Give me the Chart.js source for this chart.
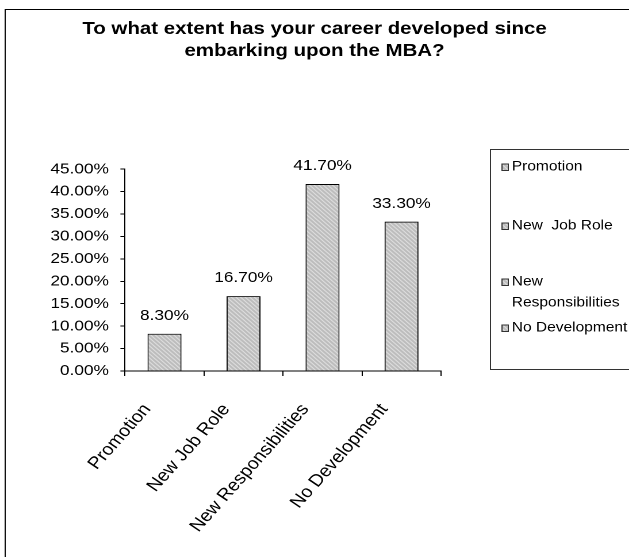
<!DOCTYPE html>
<html>
<head>
<meta charset="utf-8">
<script src="https://cdn.jsdelivr.net/npm/chart.js@4.4.1/dist/chart.umd.min.js"></script>
<style>
  html, body { margin: 0; padding: 0; background: #fff; overflow: hidden; }
  /* the original export is stretched a bit horizontally, so draw narrower and scale */
  #wrap { position: absolute; left: 0; top: 0; width: 547px; height: 557px; transform: scaleX(1.15); transform-origin: 0 0; }
</style>
</head>
<body>
<div id="wrap"><canvas id="chart"></canvas></div>
<script>
const titleLines = ['To what extent has your career developed since', 'embarking upon the MBA?'];
const categories = ['Promotion', 'New Job Role', 'New Responsibilities', 'No Development'];
const values = [0.083, 0.167, 0.417, 0.333];
const legendLabels = [['Promotion'], ['New  Job Role'], ['New', 'Responsibilities'], ['No Development']];
const yMax = 0.45;
const yStep = 0.05;

const FONT = '"Liberation Sans", Arial, sans-serif';

function stripes() {
    const c = document.createElement('canvas');
    c.width = 4;
    c.height = 4;
    const g = c.getContext('2d');
    g.fillStyle = '#bbbbbb';
    g.fillRect(0, 0, 4, 4);
    g.fillStyle = '#f2f2f2';
    for (let i = 0; i < 4; i++) g.fillRect(i, i, 1, 1);
    return g.createPattern(c, 'repeat');
}

const pct = v => (v * 100).toFixed(2) + '%';

// value labels above each bar
const barLabels = {
    id: 'barLabels',
    afterDatasetsDraw(chart) {
        const ctx = chart.ctx;
        ctx.save();
        ctx.font = '15px ' + FONT;
        ctx.fillStyle = '#000';
        ctx.textAlign = 'center';
        ctx.textBaseline = 'middle';
        chart.getDatasetMeta(0).data.forEach((bar, i) => {
            ctx.fillText(pct(values[i]), bar.x, bar.y - 18);
        });
        ctx.restore();
    }
};

// outer frame and the boxed legend on the right
const frameAndLegend = {
    id: 'frameAndLegend',
    afterDraw(chart) {
        const ctx = chart.ctx;
        const fill = chart.data.datasets[0].backgroundColor;
        ctx.save();
        ctx.strokeStyle = '#000';
        ctx.lineWidth = 1;
        ctx.strokeRect(4.5, 9.5, chart.width + 20, chart.height + 20);

        const boxX = 426.5, boxY = 149.5, boxH = 220;
        ctx.strokeStyle = '#333';
        ctx.strokeRect(boxX, boxY, chart.width, boxH);

        const entryY = [167, 226, 282, 328];
        const lineStep = 21;
        ctx.font = '13.5px ' + FONT;
        ctx.textAlign = 'left';
        ctx.textBaseline = 'middle';
        legendLabels.forEach((lines, i) => {
            const y = entryY[i];
            ctx.fillStyle = fill;
            ctx.fillRect(436, y - 3.5, 6, 7);
            ctx.strokeRect(436.5, y - 3, 5.5, 6.5);
            ctx.fillStyle = '#000';
            lines.forEach((t, j) => ctx.fillText(t, 445, y + j * lineStep));
        });
        ctx.restore();
    }
};

new Chart(document.getElementById('chart'), {
    type: 'bar',
    data: {
        labels: categories,
        datasets: [{
            data: values,
            backgroundColor: stripes(),
            borderColor: '#000',
            borderWidth: 1,
            barPercentage: 0.43,
            categoryPercentage: 1
        }]
    },
    options: {
        responsive: true,
        maintainAspectRatio: false,
        devicePixelRatio: 2,
        animation: false,
        layout: { padding: 0 },
        plugins: {
            legend: { display: false },
            tooltip: { enabled: false },
            title: {
                display: true,
                text: titleLines,
                color: '#000',
                font: { family: FONT, size: 17.8, weight: 'bold', lineHeight: 1.24 },
                padding: { top: 18, bottom: 107 }
            }
        },
        scales: {
            x: {
                grid: { display: true, drawOnChartArea: false, offset: true, color: '#000', tickLength: 5 },
                border: { color: '#000' },
                ticks: {
                    color: '#000',
                    font: { family: FONT, size: 17 },
                    maxRotation: 52,
                    minRotation: 52,
                    autoSkip: false,
                    padding: 24,
                    labelOffset: -15
                },
                afterFit(scale) { scale.height = 186; }
            },
            y: {
                min: 0,
                max: yMax,
                ticks: {
                    stepSize: yStep,
                    callback: v => pct(v),
                    color: '#000',
                    font: { family: FONT, size: 15 },
                    padding: 10
                },
                grid: { drawOnChartArea: false, color: '#000', tickLength: 4 },
                border: { color: '#000' },
                afterFit(scale) { scale.width = 108.7; }
            },
            side: {
                type: 'linear',
                position: 'right',
                display: true,
                grid: { display: false },
                ticks: { display: false },
                border: { display: false },
                afterFit(scale) { scale.width = 163.5; }
            }
        }
    },
    plugins: [barLabels, frameAndLegend]
});
</script>
</body>
</html>
